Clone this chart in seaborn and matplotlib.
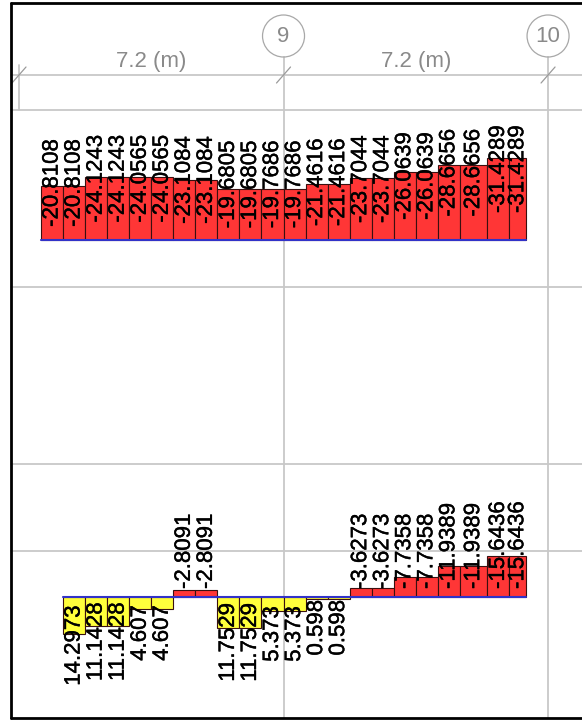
import matplotlib
matplotlib.use("Agg")
import matplotlib.pyplot as plt
import matplotlib.patheffects as pe
from matplotlib.patches import Circle
import seaborn as sns

# grid lines (m) and their bubble names
grid_x = [0.0, 7.2, 14.4]
grid_names = ["", "9", "10"]
span_len = [7.2, 7.2]

# upper strip: station edges (m) and values
top_edges = [0.6, 1.2, 1.8, 2.4, 3.0, 3.6, 4.2, 4.8, 5.4, 6.0, 6.6, 7.2,
             7.8, 8.4, 9.0, 9.6, 10.2, 10.8, 11.4, 12.0, 12.75, 13.35, 13.8]
top_vals = [-20.8108, -20.8108, -24.1243, -24.1243, -24.0565, -24.0565,
            -23.1084, -23.1084, -19.6805, -19.6805, -19.7686, -19.7686,
            -21.4616, -21.4616, -23.7044, -23.7044, -26.0639, -26.0639,
            -28.6656, -28.6656, -31.4289, -31.4289]

# lower strip
bot_edges = [1.2, 1.8, 2.4, 3.0, 3.6, 4.2, 4.8, 5.4, 6.0, 6.6, 7.2,
             7.8, 8.4, 9.0, 9.6, 10.2, 10.8, 11.4, 12.0, 12.75, 13.35, 13.8]
bot_vals = [14.2973, 11.1428, 11.1428, 4.607, 4.607, -2.8091, -2.8091,
            11.7529, 11.7529, 5.373, 5.373, 0.598, 0.598, -3.6273, -3.6273,
            -7.7358, -7.7358, -11.9389, -11.9389, -15.6436, -15.6436]

sns.set_style("white")
plt.rcParams["font.family"] = ["Liberation Sans", "DejaVu Sans"]

W, H = 582, 720
X0, PXM = 19, 36.74      # pixel of grid 0, pixels per metre
SCALE = 2.6              # pixels per unit of value
LINE = "#c8c8c8"
GREY = "#8a8a8a"
RED, YELLOW, BLUE = "#ff3636", "#ffff3c", "#3232c8"


def gx(m):
    return X0 + m * PXM


fig = plt.figure(figsize=(W / 100, H / 100), dpi=100)
canvas = fig.add_axes([0, 0, 1, 1])
canvas.set_xlim(0, W)
canvas.set_ylim(H, 0)
canvas.axis("off")

# horizontal lines
for y in [75, 110, 287, 464, 551]:
    canvas.plot([11, W], [y, y], color=LINE, lw=1.3, zorder=1)

# dimension extension at first grid, grid lines with bubbles
canvas.plot([gx(grid_x[0])] * 2, [65, 110], color=LINE, lw=1.3, zorder=1)
for g, name in zip(grid_x[1:], grid_names[1:]):
    canvas.plot([gx(g)] * 2, [57, 718], color=LINE, lw=1.3, zorder=1)
    canvas.add_patch(Circle((gx(g), 36), 21, fill=False, ec="#a8a8a8", lw=0.9))
    canvas.text(gx(g), 36, name, ha="center", va="center", fontsize=16, color=GREY)
for g in grid_x:
    canvas.plot([gx(g) - 7, gx(g) + 7], [83, 67], color="#9a9a9a", lw=0.9, zorder=2)
for i, L in enumerate(span_len):
    mid = (grid_x[i] + grid_x[i + 1]) / 2
    canvas.text(gx(mid), 62, f"{L} (m)", ha="center", va="center", fontsize=16, color=GREY)

# frame
canvas.plot([11, 11], [3, 718], color="black", lw=2)
canvas.plot([11, W], [3, 3], color="black", lw=2)
canvas.plot([11, W], [718, 718], color="black", lw=2)

heavier = [pe.withStroke(linewidth=0.3, foreground="black")]


def strip(edges, vals, base_px, top_px, bot_px):
    a = fig.add_axes([0, 1 - bot_px / H, 1, (bot_px - top_px) / H])
    a.patch.set_alpha(0)
    mids = [(edges[i] + edges[i + 1]) / 2 for i in range(len(vals))]
    sns.histplot(x=mids, weights=vals, bins=edges, stat="count", alpha=1,
                 edgecolor="#3a1010", linewidth=0.8, ax=a)
    for p in a.patches:
        p.set_facecolor(RED if p.get_height() < 0 else YELLOW)
    a.plot([edges[0], edges[-1]], [0, 0], color=BLUE, lw=1.5, zorder=4)
    a.set_xlim(-X0 / PXM, (W - X0) / PXM)
    a.set_ylim((bot_px - base_px) / SCALE, -(base_px - top_px) / SCALE)
    a.axis("off")
    texts = []
    off = 30 / SCALE   # label sits a little beyond the bar's middle
    for m, v in zip(mids, vals):
        y = v / 2 + (off if v > 0 else -off)
        t = a.text(m, y, str(v), rotation=90, ha="center", va="center",
                   fontsize=16, color="black", zorder=6, path_effects=heavier)
        texts.append((t, v))
    return a, texts


strips = [strip(top_edges, top_vals, 240, 112, 285),
          strip(bot_edges, bot_vals, 597, 467, 716)]

# keep labels from crossing the baseline
fig.canvas.draw()
r = fig.canvas.get_renderer()
for a, texts in strips:
    base = a.transData.transform((0, 0))[1]
    for t, v in texts:
        bb = t.get_window_extent(r)
        shift = 0
        if v < 0 and bb.y0 < base + 8:
            shift = base + 8 - bb.y0
        elif v > 0 and bb.y1 > base - 3:
            shift = base - 3 - bb.y1
        if shift:
            x, y = a.transData.transform(t.get_position())
            t.set_position(a.transData.inverted().transform((x, y + shift)))

fig.savefig("out.png", dpi=100)
